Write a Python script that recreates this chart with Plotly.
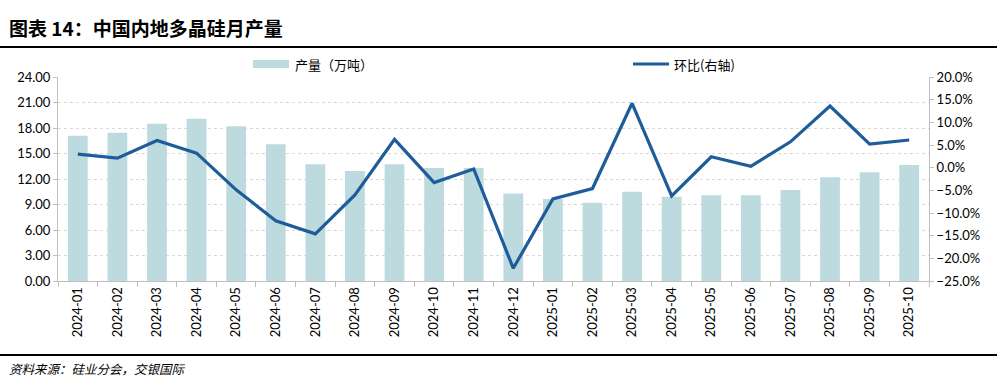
import plotly.graph_objects as go

months = ["2024-01","2024-02","2024-03","2024-04","2024-05","2024-06","2024-07","2024-08",
          "2024-09","2024-10","2024-11","2024-12","2025-01","2025-02","2025-03","2025-04",
          "2025-05","2025-06","2025-07","2025-08","2025-09","2025-10"]
output_wt = [17.1, 17.45, 18.5, 19.1, 18.2, 16.1, 13.75, 12.95, 13.75, 13.3, 13.3, 10.3,
             9.65, 9.2, 10.5, 9.9, 10.1, 10.1, 10.7, 12.2, 12.8, 13.65]
mom_pct = [3.0, 2.1, 6.0, 3.2, -4.9, -11.7, -14.6, -6.0, 6.25, -3.3, -0.3, -22.2,
           -6.9, -4.6, 14.2, -6.25, 2.4, 0.3, 5.7, 13.6, 5.2, 6.1]

title_text = "图表 14：中国内地多晶硅月产量"
source_text = "资料来源：硅业分会，交银国际"
bar_name = "产量（万吨）"
line_name = "环比(右轴)"

BAR_C = "#BDDBDF"
LINE_C = "#1F5C9A"
AXIS_C = "#BFBFBF"
NUM_FONT = "Lato, Liberation Sans, sans-serif"
CJK_FONT = "Noto Sans CJK SC"

W, H = 997, 389
L, R, T, B = 58, 929, 77, 281

def px(x):
    return (x - L) / (R - L)

def py(y):
    return (B - y) / (B - T)

fig = go.Figure()
fig.add_trace(go.Bar(x=months, y=output_wt, name=bar_name, marker_color=BAR_C,
                     marker_line_width=0, width=0.5, yaxis="y", showlegend=False))
fig.add_trace(go.Scatter(x=months, y=mom_pct, name=line_name, mode="lines",
                         line=dict(color=LINE_C, width=3.2), yaxis="y2", showlegend=False))

shapes = [
    dict(type="line", xref="paper", yref="paper", x0=px(0), x1=px(997), y0=py(47), y1=py(47),
         line=dict(color="#000000", width=1.8)),
    dict(type="line", xref="paper", yref="paper", x0=px(0), x1=px(997), y0=py(355), y1=py(355),
         line=dict(color="#000000", width=1.8)),
    dict(type="rect", xref="paper", yref="paper", x0=px(253), x1=px(289), y0=py(68), y1=py(60),
         fillcolor=BAR_C, line=dict(width=0)),
    dict(type="line", xref="paper", yref="paper", x0=px(633), x1=px(669), y0=py(64), y1=py(64),
         line=dict(color=LINE_C, width=3.2)),
]

annotations = [
    dict(text="<b>" + title_text + "</b>", xref="paper", yref="paper", x=px(7), y=py(28),
         xanchor="left", yanchor="middle", showarrow=False,
         font=dict(family=CJK_FONT, size=19, color="#000000")),
    dict(text="<i>" + source_text + "</i>", xref="paper", yref="paper", x=px(7), y=py(368),
         xanchor="left", yanchor="middle", showarrow=False,
         font=dict(family=CJK_FONT, size=12.5, color="#000000")),
    dict(text=bar_name, xref="paper", yref="paper", x=px(293), y=py(64),
         xanchor="left", yanchor="middle", showarrow=False,
         font=dict(family=CJK_FONT, size=13, color="#000000")),
    dict(text=line_name, xref="paper", yref="paper", x=px(672), y=py(64),
         xanchor="left", yanchor="middle", showarrow=False,
         font=dict(family=CJK_FONT, size=13, color="#000000")),
]

fig.update_layout(
    width=W, height=H,
    margin=dict(l=L, r=W - R, t=T, b=H - B, pad=0),
    paper_bgcolor="white", plot_bgcolor="white",
    bargap=0.5,
    shapes=shapes, annotations=annotations,
    xaxis=dict(type="category", tickangle=-90, showgrid=False, showline=True,
               linecolor=AXIS_C, linewidth=1, ticks="outside", tickson="boundaries",
               ticklen=5, tickcolor=AXIS_C,
               tickfont=dict(family=NUM_FONT, size=13, color="#000000")),
    yaxis=dict(range=[0, 24], dtick=3, tickformat=".2f", showgrid=True,
               gridcolor="#D9D9D9", griddash="dot", gridwidth=1,
               showline=True, linecolor=AXIS_C, ticks="outside", ticklen=4,
               tickcolor=AXIS_C, zeroline=False,
               tickfont=dict(family=NUM_FONT, size=13, color="#000000")),
    yaxis2=dict(range=[-25, 20], dtick=5, tickformat=".1f", ticksuffix="%",
                overlaying="y", side="right", showgrid=False, zeroline=False,
                showline=True, linecolor=AXIS_C, ticks="outside", ticklen=4,
                tickcolor=AXIS_C,
                tickfont=dict(family=NUM_FONT, size=13, color="#000000")),
)

fig.write_html("out.html")
